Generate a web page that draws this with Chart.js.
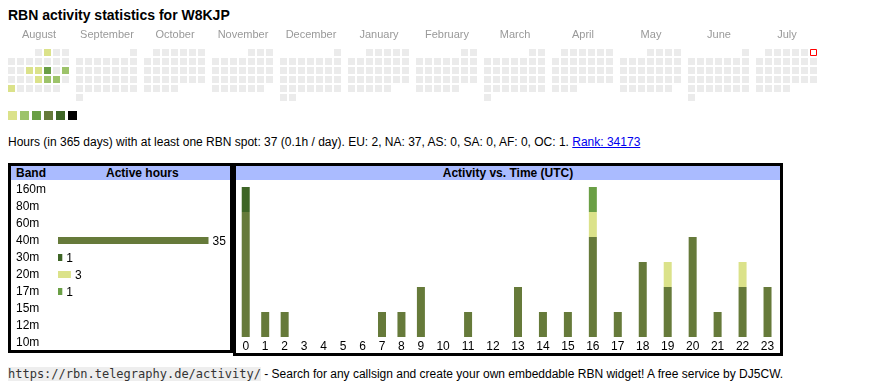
<!DOCTYPE html>
<html>
<head>
<meta charset="utf-8">
<script src="https://cdn.jsdelivr.net/npm/chart.js@4.4.1/dist/chart.umd.min.js"></script>
<style>
  body { margin: 0; background: #fff; font-family: "Liberation Sans", Arial, sans-serif; color: #000; }
  #page { position: relative; width: 870px; height: 390px; overflow: hidden; }
  .abs { position: absolute; }
  #title { left: 8px; top: 7px; font-size: 14px; font-weight: bold; line-height: 16px; }
  #legend { left: 8px; top: 111px; }
  #legend span { position: absolute; top: 0; width: 9px; height: 9px; }
  #summary { left: 8px; top: 135px; font-size: 12px; line-height: 14px; white-space: nowrap; }
  #summary a { color: #00e; text-decoration: underline; }
  .box { border: 3px solid #000; box-sizing: border-box; }
  .head { position: absolute; left: 0; right: 0; top: 0; height: 14px; background: #aabbff; }
  .head b { position: absolute; top: 0; font-size: 12px; line-height: 14px; white-space: nowrap; }
  #footer { left: 8px; top: 367px; font-size: 12px; line-height: 14px; white-space: nowrap; }
  #footer code { font-family: "DejaVu Sans Mono", monospace; font-size: 12px; background: #eee; color: #333; }
  canvas { position: absolute; }
</style>
</head>
<body>
<div id="page">
  <div id="title" class="abs">RBN activity statistics for W8KJP</div>
  <canvas id="calendar" width="862" height="75" style="left:8px; top:27px;"></canvas>
  <div id="legend" class="abs"></div>
  <div id="summary" class="abs">Hours (in 365 days) with at least one RBN spot: 37 (0.1h / day). EU: 2, NA: 37, AS: 0, SA: 0, AF: 0, OC: 1. <a href="#">Rank: 34173</a></div>

  <div class="abs box" style="left:8px; top:163px; width:225px; height:190px;">
    <div class="head"><b style="left:5px;">Band</b><b style="left:95px; width:71px; text-align:center;">Active hours</b></div>
  </div>
  <canvas id="bandChart" width="219" height="170" style="left:11px; top:181px;"></canvas>

  <div class="abs box" style="left:233px; top:163px; width:550px; height:193px;">
    <div class="head"><b style="left:0; right:0; text-align:center;">Activity vs. Time (UTC)</b></div>
  </div>
  <canvas id="hourChart" width="544" height="172" style="left:236px; top:180px;"></canvas>

  <div id="footer" class="abs"><code>https://rbn.telegraphy.de/activity/</code> - Search for any callsign and create your own embeddable RBN widget! A free service by DJ5CW.</div>
</div>

<script>
// calendar data (Aug 2024 - Jul 2025)
const monthNames = ['August', 'September', 'October', 'November', 'December', 'January',
                    'February', 'March', 'April', 'May', 'June', 'July'];
const startYear = 2024, startMonth = 7;   // August 2024
const activeDates = ['2024-08-02', '2024-08-14', '2024-08-15', '2024-08-16', '2024-08-18',
                     '2024-08-22', '2024-08-23', '2024-08-24', '2024-08-26'];
const activeLevels = [0, 0, 0, 2, 1, 0, 1, 1, 0];
const today = '2025-07-06';
const levelColors = ['#dbe28a', '#9dc36a', '#6a9f45', '#667a3a', '#3e6526', '#000000'];
const emptyColor = '#ebebeb';

// band totals
const bands = ['160m', '80m', '60m', '40m', '30m', '20m', '17m', '15m', '12m', '10m'];
const bandHours = [0, 0, 0, 35, 1, 3, 1, 0, 0, 0];
const bandColors = ['#000000', '#3e6526', '#9dc36a', '#667a3a', '#3e6526', '#dbe28a', '#6a9f45', '#9dc36a', '#667a3a', '#6a9f45'];

// activity per UTC hour, per band
const hours = ['0', '1', '2', '3', '4', '5', '6', '7', '8', '9', '10', '11',
               '12', '13', '14', '15', '16', '17', '18', '19', '20', '21', '22', '23'];
const hourBands = ['40m', '30m', '20m', '17m'];
const hours40m = [5, 1, 1, 0, 0, 0, 0, 1, 1, 2, 0, 1, 0, 2, 1, 1, 4, 1, 3, 2, 4, 1, 2, 2];
const hours30m = [1, 0, 0, 0, 0, 0, 0, 0, 0, 0, 0, 0, 0, 0, 0, 0, 0, 0, 0, 0, 0, 0, 0, 0];
const hours20m = [0, 0, 0, 0, 0, 0, 0, 0, 0, 0, 0, 0, 0, 0, 0, 0, 1, 0, 0, 1, 0, 0, 1, 0];
const hours17m = [0, 0, 0, 0, 0, 0, 0, 0, 0, 0, 0, 0, 0, 0, 0, 0, 1, 0, 0, 0, 0, 0, 0, 0];

Chart.defaults.font.family = '"Liberation Sans", Arial, sans-serif';
Chart.defaults.animation = false;

// legend squares
const legend = document.getElementById('legend');
levelColors.forEach((c, i) => {
    const s = document.createElement('span');
    s.style.left = (i * 12) + 'px';
    s.style.background = c;
    legend.appendChild(s);
});

// Calendar heatmap
const CELL = 9, BLOCK = 68;
function ymd(d) { return d.toISOString().slice(0, 10); }
const calCells = [], calColors = [], todayCell = [];
for (let m = 0; m < 12; m++) {
    const first = new Date(Date.UTC(startYear, startMonth + m, 1));
    const offset = (first.getUTCDay() + 6) % 7;
    const d = new Date(first);
    while (d.getUTCMonth() === first.getUTCMonth()) {
        const day = d.getUTCDate();
        const wd = (d.getUTCDay() + 6) % 7;
        const pt = { x: m * BLOCK + wd * CELL + 3.5, y: Math.floor((day - 1 + offset) / 7) };
        const key = ymd(d);
        const k = activeDates.indexOf(key);
        if (key === today) {
            todayCell.push(pt);
        } else {
            calCells.push(pt);
            calColors.push(k >= 0 ? levelColors[activeLevels[k]] : emptyColor);
        }
        d.setUTCDate(day + 1);
    }
}

new Chart(document.getElementById('calendar'), {
    type: 'scatter',
    data: {
        datasets: [
            { data: calCells, pointStyle: 'rect', pointRadius: 3.5 / Math.SQRT1_2,
              backgroundColor: calColors, borderWidth: 0 },
            { data: todayCell, pointStyle: 'rect', pointRadius: 3 / Math.SQRT1_2,
              backgroundColor: '#fff', borderColor: '#ff0000', borderWidth: 1 }
        ]
    },
    options: {
        responsive: false,
        layout: { padding: 0, autoPadding: false },
        plugins: { legend: { display: false }, tooltip: { enabled: false } },
        scales: {
            x: {
                position: 'top', min: 0, max: 862,
                grid: { display: false, drawTicks: false }, border: { display: false },
                afterBuildTicks: s => { s.ticks = monthNames.map((n, i) => ({ value: i * BLOCK + 31 })); },
                afterFit: s => { s.height = 21; },
                ticks: { autoSkip: false, maxRotation: 0, padding: 6, color: '#999', font: { size: 11 },
                         callback: (v, i) => monthNames[i] }
            },
            y: { display: false, min: -0.5, max: 5.5, reverse: true }
        }
    }
});

// Band chart
const valueLabels = {
    id: 'valueLabels',
    afterDatasetsDraw(chart) {
        const ctx = chart.ctx;
        ctx.save();
        ctx.font = '12px "Liberation Sans", Arial';
        ctx.fillStyle = '#000';
        ctx.textBaseline = 'middle';
        chart.getDatasetMeta(0).data.forEach((bar, i) => {
            if (bandHours[i] > 0) ctx.fillText(bandHours[i], bar.x + 4, bar.y + 1);
        });
        ctx.restore();
    }
};

new Chart(document.getElementById('bandChart'), {
    type: 'bar',
    data: {
        labels: bands,
        datasets: [{ data: bandHours.map(v => v || null), backgroundColor: bandColors,
                     barThickness: 7, borderWidth: 0, inflateAmount: 0 }]
    },
    options: {
        indexAxis: 'y',
        responsive: false,
        layout: { padding: { left: 5, right: 0, top: 0, bottom: 0 }, autoPadding: false },
        plugins: { legend: { display: false }, tooltip: { enabled: false } },
        scales: {
            x: { display: false, min: 0, max: 40 },
            y: {
                grid: { display: false, drawTicks: false }, border: { display: false },
                afterFit: s => { s.width = 42; s.paddingTop = 0; s.paddingBottom = 0; },
                ticks: { autoSkip: false, crossAlign: 'far', padding: 0, color: '#000', font: { size: 12 } }
            }
        }
    },
    plugins: [valueLabels]
});

// Activity vs time chart: columns sized like the html table cells
const plotW = 544;
const raw = hours.map(h => 14 + 5.5 * h.length);
const rawSum = raw.reduce((a, b) => a + b, 0);
const centers = [];
let acc = 0;
raw.forEach(w => { const ww = w * plotW / rawSum; centers.push(acc + ww / 2); acc += ww; });

const hourSeries = [hours40m, hours30m, hours20m, hours17m];
const totals = hours.map((h, i) => hourSeries.reduce((s, a) => s + a[i], 0));

new Chart(document.getElementById('hourChart'), {
    type: 'bar',
    data: {
        datasets: hourSeries.map((series, k) => ({
            label: hourBands[k],
            data: series.map((v, i) => ({ x: centers[i], y: v || null })),
            backgroundColor: bandColors[bands.indexOf(hourBands[k])],
            barThickness: 8,
            borderWidth: 0,
            inflateAmount: 0
        }))
    },
    options: {
        responsive: false,
        layout: { padding: { top: 7, left: 0, right: 0, bottom: 0 } },
        plugins: { legend: { display: false }, tooltip: { enabled: false } },
        scales: {
            x: {
                type: 'linear', stacked: true, offset: false, min: 0, max: plotW,
                grid: { display: false, drawTicks: false }, border: { display: false },
                afterBuildTicks: s => { s.ticks = centers.map(v => ({ value: v })); },
                afterFit: s => { s.height = 15; },
                ticks: { autoSkip: false, maxRotation: 0, padding: 2, color: '#000', font: { size: 12 },
                         callback: (v, i) => hours[i] }
            },
            y: { display: false, stacked: true, min: 0, max: Math.max(...totals) }
        }
    }
});
</script>
</body>
</html>
